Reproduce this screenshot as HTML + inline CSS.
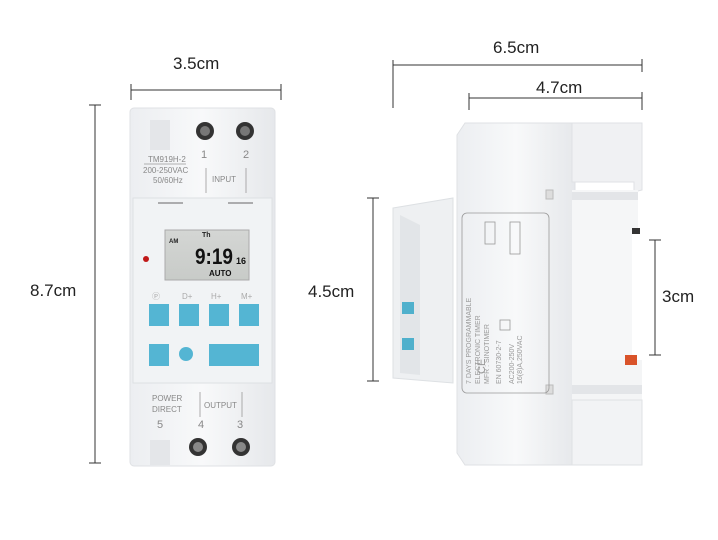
<!DOCTYPE html>
<html><head><style>
html,body{margin:0;padding:0;background:#fff}
svg{display:block}
text{font-family:"Liberation Sans",sans-serif}
</style></head><body>
<svg width="718" height="540" viewBox="0 0 718 540" xmlns="http://www.w3.org/2000/svg">
<defs>
<linearGradient id="bd" x1="0" x2="1"><stop offset="0" stop-color="#eceef1"/><stop offset="0.5" stop-color="#f8f9fa"/><stop offset="1" stop-color="#e6e8eb"/></linearGradient>
<linearGradient id="lcd" x1="0" y1="0" x2="0" y2="1"><stop offset="0" stop-color="#d4d6d4"/><stop offset="1" stop-color="#c8cbc8"/></linearGradient>
</defs>
<g stroke="#333" stroke-width="1" fill="none">
<path d="M131 90H281M131 84V100M281 84V100"/>
<path d="M95 105V463M89 105H101M89 463H101"/>
<path d="M393 65H642M393 60V108M642 59V72"/>
<path d="M469 98H642M469 93V110M642 92V110"/>
<path d="M373 198V381M367 198H379M367 381H379"/>
<path d="M655 240V355M649 240H661M649 355H661"/>
</g>
<g fill="#222" font-size="17">
<text x="173" y="69">3.5cm</text>
<text x="30" y="296">8.7cm</text>
<text x="493" y="53">6.5cm</text>
<text x="536" y="93">4.7cm</text>
<text x="308" y="297">4.5cm</text>
<text x="662" y="302">3cm</text>
</g>
<!-- front device -->
<rect x="130" y="108" width="145" height="358" rx="4" fill="url(#bd)" stroke="#dfe1e4"/>
<path d="M150 120h20v30h-20z" fill="#e4e6e9"/>
<path d="M150 440h20v25h-20z" fill="#e4e6e9"/>
<circle cx="205" cy="131" r="9" fill="#333"/><circle cx="205" cy="131" r="5" fill="#777"/>
<circle cx="245" cy="131" r="9" fill="#333"/><circle cx="245" cy="131" r="5" fill="#777"/>
<circle cx="198" cy="447" r="9" fill="#333"/><circle cx="198" cy="447" r="5" fill="#888"/>
<circle cx="241" cy="447" r="9" fill="#333"/><circle cx="241" cy="447" r="5" fill="#888"/>
<g fill="#888" font-size="8">
<text x="148" y="162">TM919H-2</text>
<text x="143" y="173">200-250VAC</text>
<text x="153" y="183">50/60Hz</text>
<text x="212" y="182">INPUT</text>
<text x="201" y="158" font-size="11">1</text><text x="243" y="158" font-size="11">2</text>
<text x="152" y="401">POWER</text><text x="152" y="412">DIRECT</text>
<text x="204" y="408">OUTPUT</text>
<text x="157" y="428" font-size="11">5</text><text x="198" y="428" font-size="11">4</text><text x="237" y="428" font-size="11">3</text>
<text x="139" y="250" font-size="6">ON</text>
</g>
<path d="M144 164h42M206 168v25M246 168v25M200 392v25M242 392v25" stroke="#999" stroke-width="0.8"/>
<rect x="133" y="198" width="139" height="185" fill="#f1f3f5" stroke="#dde0e3"/>
<path d="M158 203h25M228 203h25" stroke="#666" stroke-width="1"/>
<circle cx="146" cy="259" r="3" fill="#c01818"/>
<rect x="165" y="230" width="84" height="50" fill="url(#lcd)" stroke="#aaa"/>
<text x="169" y="243" font-size="6" font-weight="bold" fill="#222">AM</text>
<text x="202" y="237" font-size="7" font-weight="bold" fill="#222">Th</text>
<text x="195" y="264" font-size="22" font-weight="bold" fill="#111" textLength="38" lengthAdjust="spacingAndGlyphs">9:19</text>
<text x="236" y="264" font-size="9" font-weight="bold" fill="#111">16</text>
<text x="209" y="276" font-size="8" font-weight="bold" fill="#111">AUTO</text>
<g fill="#aaa" font-size="8"><text x="152" y="299">Ⓟ</text><text x="182" y="299">D+</text><text x="211" y="299">H+</text><text x="241" y="299">M+</text></g>
<g fill="#54b5d3">
<rect x="149" y="304" width="20" height="22"/><rect x="179" y="304" width="20" height="22"/>
<rect x="209" y="304" width="20" height="22"/><rect x="239" y="304" width="20" height="22"/>
<rect x="149" y="344" width="20" height="22"/><circle cx="186" cy="354" r="7"/>
<rect x="209" y="344" width="50" height="22"/>
</g>
<!-- side device -->
<path d="M465 123h110v342h-110l-8-12V135z" fill="url(#bd)" stroke="#dfe1e4"/>
<path d="M572 123h70v67l-8 2v-10h-62z" fill="#f0f1f3" stroke="#dfe1e4"/>
<rect x="572" y="190" width="66" height="40" fill="#f5f6f7"/>
<rect x="572" y="192" width="66" height="8" fill="#e3e5e8"/>
<path d="M572 230h60v130h-60z" fill="#f6f7f8"/>
<rect x="572" y="360" width="70" height="40" fill="#f4f5f6"/>
<rect x="572" y="385" width="70" height="9" fill="#e3e5e8"/>
<rect x="572" y="400" width="70" height="65" fill="#f2f3f5" stroke="#dfe1e4"/>
<rect x="625" y="355" width="12" height="10" fill="#d9532a"/>
<rect x="632" y="228" width="8" height="6" fill="#333"/>
<rect x="546" y="190" width="7" height="9" fill="#ddd" stroke="#bbb"/>
<rect x="546" y="385" width="7" height="9" fill="#ddd" stroke="#bbb"/>
<path d="M393 208l60-10v185l-60-5z" fill="#eef0f2" stroke="#dde0e3"/>
<path d="M400 215l20 10v150l-20-2z" fill="#e2e5e8"/>
<rect x="402" y="302" width="12" height="12" fill="#4fb0cc"/>
<rect x="402" y="338" width="12" height="12" fill="#4fb0cc"/>
<rect x="462" y="213" width="87" height="180" rx="5" fill="none" stroke="#999" stroke-width="0.8"/>
<g fill="#999" font-size="7" transform="translate(471,384) rotate(-90)">
<text x="0" y="0">7 DAYS PROGRAMMABLE</text>
<text x="0" y="9">ELECTRONIC TIMER</text>
<text x="0" y="18">MFR : SINOTIMER</text>
<text x="0" y="30">EN 60730-2-7</text>
<text x="0" y="43">AC200-250V</text>
<text x="0" y="51">16(8)A,250VAC</text>
<text x="10" y="14" font-size="11">CE</text>
</g>
<g stroke="#999" fill="none" stroke-width="0.8">
<rect x="485" y="222" width="10" height="22"/><rect x="510" y="222" width="10" height="32"/>
<rect x="500" y="320" width="10" height="10"/>
</g>
</svg>
</body></html>
